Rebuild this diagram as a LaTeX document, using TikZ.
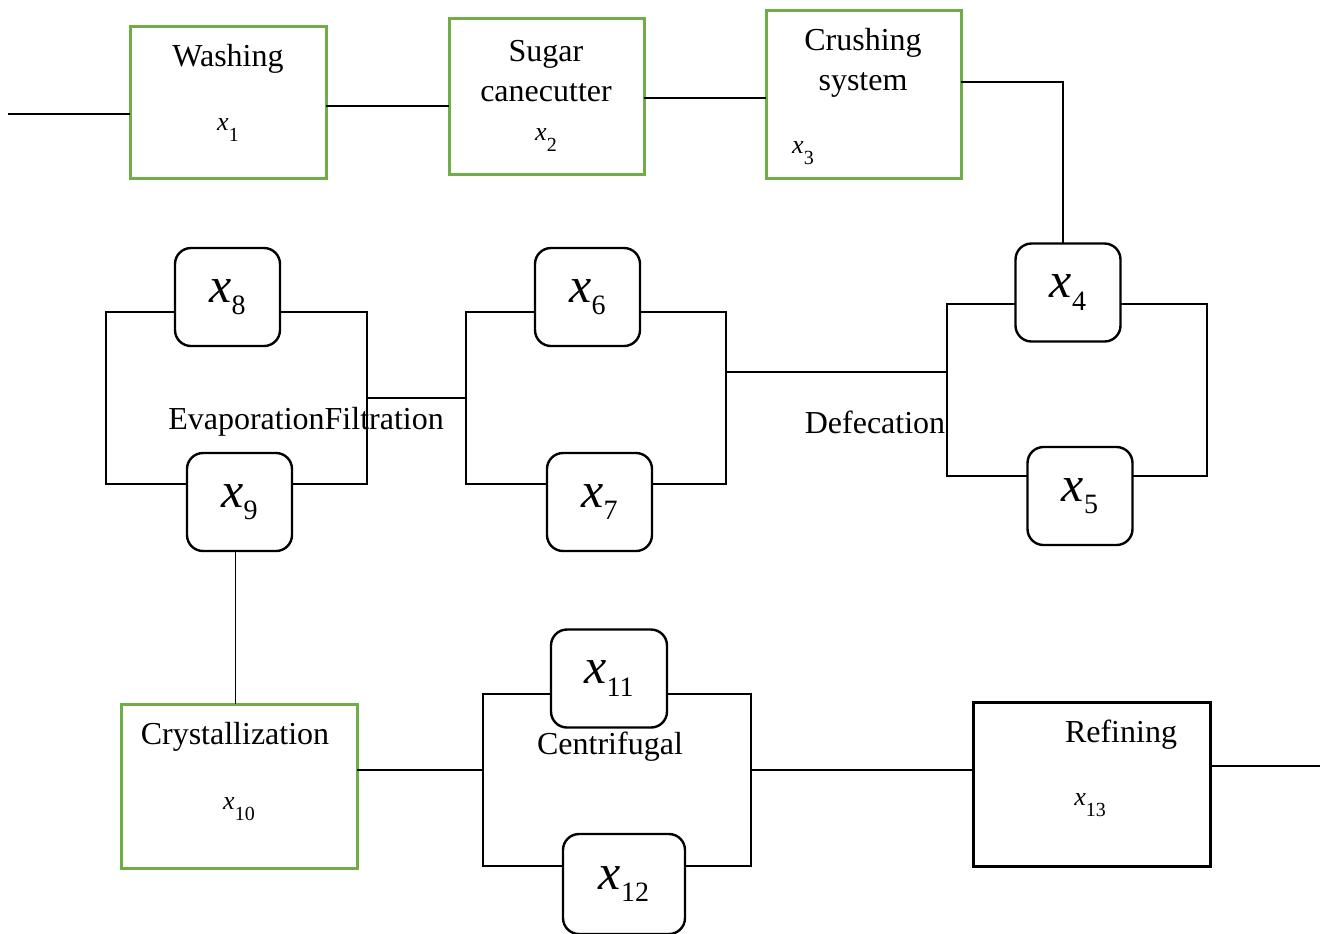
\documentclass[tikz,border=0pt]{standalone}
\usepackage{fontspec}
\setmainfont{Liberation Serif}
\usepackage{tikz}
\usetikzlibrary{positioning}
\definecolor{boxgreen}{HTML}{70AD47}
\newcommand{\bigx}[1]{{\fontsize{25}{30}\selectfont\textit{x}\raisebox{-0.25em}{\fontsize{14}{16}\selectfont #1}}}
\newcommand{\smallx}[1]{{\fontsize{13}{16}\selectfont\textit{x}\raisebox{-0.4em}{\fontsize{10}{12}\selectfont #1}}}

\begin{document}
\begin{tikzpicture} %
		[
			x=0.5pt, y=-0.5pt,
			font={\fontsize{16}{20}\selectfont},
			stage/.style={
				draw=boxgreen,
				line width=1.5pt,
				inner sep=0,
				outer sep=0,
			},
			unit/.style={
				draw,
				rounded corners=8pt,
				line width=1.2pt,
				minimum width=52.5pt,
				minimum height=49pt,
				inner sep=0,
				outer sep=0,
			},
			wire/.style={line width=0.8pt},
			lbl/.style={inner sep=0, align=center},
		]
		\useasboundingbox (0,0) rectangle (1320,933);
		% top row
		\node[stage, minimum width=98pt, minimum height=76pt] (wash) at (228,102) {};
		\node[stage, minimum width=97.5pt, minimum height=78pt] (sugar) at (546.5,96) {};
		\node[stage, minimum width=97.5pt, minimum height=84pt] (crush) at (863.5,94) {};
		\node[lbl] (washtxt) at (228,59) {Washing};
		\node[lbl] (washx) at (228,130) {\smallx{1}};
		\node[lbl] (sugartxt) at (546,71) {Sugar\\canecutter};
		\node[lbl] (sugarx) at (546,140) {\smallx{2}};
		\node[lbl] (crushtxt) at (863,63) {Crushing\\system};
		\node[lbl] (crushx) at (803,153) {\smallx{3}};
		% parallel units
		\node[unit] (x4) at (1068,292.5) {\bigx{4}};
		\node[unit] (x5) at (1080,496) {\bigx{5}};
		\node[unit] (x6) at (587.5,297) {\bigx{6}};
		\node[unit] (x7) at (599.5,502) {\bigx{7}};
		\node[unit] (x8) at (227.5,297) {\bigx{8}};
		\node[unit] (x9) at (239.5,502) {\bigx{9}};
		\node[unit, minimum width=58pt] (x11) at (609,678.5) {\bigx{11}};
		\node[unit, minimum width=61pt, minimum height=50pt] (x12) at (624,884) {\bigx{12}};
		\node[lbl] (evaptxt) at (306,422) {EvaporationFiltration};
		\node[lbl] (deftxt) at (875,422) {Defecation};
		\node[lbl] (centtxt) at (610,747) {Centrifugal};
		% bottom row
		\node[stage, minimum width=118pt, minimum height=82pt] (cryst) at (239,786) {};
		\node[draw, line width=1.5pt, inner sep=0, outer sep=0, minimum width=118.5pt, minimum height=82pt] (refine) at (1091.5,784) {};
		\node[lbl] (crysttxt) at (235,737) {Crystallization};
		\node[lbl] (crystx) at (239,809) {\smallx{10}};
		\node[lbl] (refinetxt) at (1121,735) {Refining};
		\node[lbl] (refinex) at (1090,805) {\smallx{13}};

		% rails of the parallel blocks
		\coordinate (dTL) at (947,304);  \coordinate (dBL) at (947,476);
		\coordinate (dTR) at (1207,304); \coordinate (dBR) at (1207,476);
		\coordinate (fTL) at (466,312);  \coordinate (fBL) at (466,484);
		\coordinate (fTR) at (726,312);  \coordinate (fBR) at (726,484);
		\coordinate (eTL) at (106,312);  \coordinate (eBL) at (106,484);
		\coordinate (eTR) at (367,312);  \coordinate (eBR) at (367,484);
		\coordinate (cTL) at (483,694);  \coordinate (cBL) at (483,866);
		\coordinate (cTR) at (751,694);  \coordinate (cBR) at (751,866);
		\coordinate (dIn) at (947,372);
		\coordinate (fIn) at (466,398);
		\coordinate (cIn) at (483,770);
		\coordinate (cOut) at (751,770);
		\coordinate (feed) at (8,114);
		\coordinate (sugarout) at (1320,766);

		\draw[wire] (feed) -- (wash.west |- feed);
		\draw[wire] ([yshift=-2pt]wash.east) -- ([yshift=-2pt]wash.east -| sugar.west);
		\draw[wire] ([yshift=-1pt]sugar.east) -- ([yshift=-1pt]sugar.east -| crush.west);
		\draw[wire] ([yshift=6pt]crush.east) -| ([xshift=-2.5pt]x4.north);
		% defecation
		\draw[wire] (x4.west |- dTL) -- (dTL) -- (dBL) -- (x5.west |- dBL);
		\draw[wire] (x4.east |- dTR) -- (dTR) -- (dBR) -- (x5.east |- dBR);
		\draw[wire] (dIn) -- (dIn -| fTR);
		% filtration
		\draw[wire] (x6.west |- fTL) -- (fTL) -- (fBL) -- (x7.west |- fBL);
		\draw[wire] (x6.east |- fTR) -- (fTR) -- (fBR) -- (x7.east |- fBR);
		\draw[wire] (fIn) -- (fIn -| eTR);
		% evaporation
		\draw[wire] (x8.west |- eTL) -- (eTL) -- (eBL) -- (x9.west |- eBL);
		\draw[wire] (x8.east |- eTR) -- (eTR) -- (eBR) -- (x9.east |- eBR);
		\draw[wire] ([xshift=-2pt]x9.south) -- ([xshift=-2pt]x9.south |- cryst.north);
		% centrifugal
		\draw[wire] (cryst.east |- cIn) -- (cIn);
		\draw[wire] (x11.west |- cTL) -- (cTL) -- (cBL) -- (x12.west |- cBL);
		\draw[wire] (x11.east |- cTR) -- (cTR) -- (cBR) -- (x12.east |- cBR);
		\draw[wire] (cOut) -- (cOut -| refine.west);
		\draw[wire] (refine.east |- sugarout) -- (sugarout);
	\end{tikzpicture}
\end{document}
